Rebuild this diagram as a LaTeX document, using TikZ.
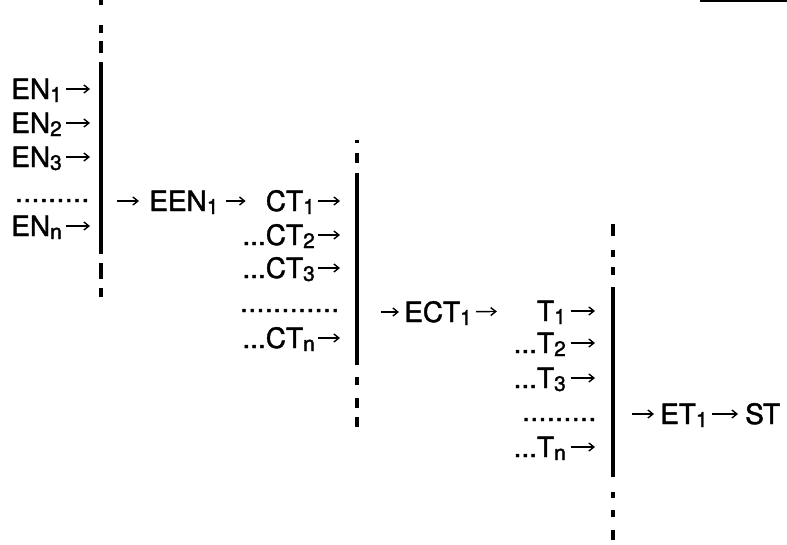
\documentclass[tikz,border=0pt]{standalone}
\usepackage{fontspec}
\setmainfont{TeX Gyre Heros}[FakeBold=1.5]
\usetikzlibrary{positioning,arrows.meta}

% lowered index after a name, e.g. EN_1
\newcommand{\sbs}[1]{\raisebox{-3pt}{\fontsize{21}{21}\selectfont #1}}
% row of spaced dots, #1 wide
\newcommand{\ldts}[1]{\hbox to #1{\leaders\hbox to 8.3pt{\hss.\hss}\hfill}}

\tikzstyle{lbl}=[inner sep=0pt, text height=20pt, text depth=0pt, font=\fontsize{28}{32}\selectfont]
\tikzstyle{dotrow}=[inner sep=0pt, anchor=base east, font=\fontsize{28}{32}\selectfont]
\tikzstyle{arr}=[-{Straight Barb[length=5pt,width=8pt]}, line width=1.4pt]
\tikzstyle{bar}=[line width=3.2pt]

\begin{document}
\begin{tikzpicture}[x=1pt,y=-1pt]
\useasboundingbox (0,0) rectangle (787,544);

% first stage: EN inputs
\coordinate (bar1) at (101,0);
\foreach \a/\b in {0/5,25/33,41/53,263/279,288/297}
  \draw[bar] (bar1) ++(0,\a) -- ++(0,\b-\a);
\draw[bar] (bar1) ++(0,62) -- ++(0,192);
\node[lbl, anchor=east] (en1) at (62,89) {EN\sbs{1}};
\node[lbl, anchor=east] (en2) at (62,123) {EN\sbs{2}};
\node[lbl, anchor=east] (en3) at (62,157) {EN\sbs{3}};
\node[dotrow] (endots) at (90,202) {\ldts{75pt}};
\node[lbl, anchor=east] (enn) at (62,226) {EN\sbs{n}};
\foreach \r in {en1,en2,en3,enn}
  \draw[arr, shorten <=4pt, shorten >=11pt] (\r) -- (\r -| bar1);

% second stage: CT inputs
\node[lbl, anchor=west] (een1) at (149,201) {EEN\sbs{1}};
\draw[arr, shorten <=16pt, shorten >=10pt] (een1 -| bar1) -- (een1);
\coordinate (bar2) at (357,0);
\foreach \a/\b in {140/143,153/163,377/385,398/408,417/427}
  \draw[bar] (bar2) ++(0,\a) -- ++(0,\b-\a);
\draw[bar] (bar2) ++(0,173) -- ++(0,192);
\node[lbl, anchor=east] (ct1) at (315,201) {CT\sbs{1}};
\draw[arr, shorten <=7pt, shorten >=20pt] (een1) -- (ct1);
\node[lbl, anchor=east] (ct2) at (315,235) {...CT\sbs{2}};
\node[lbl, anchor=east] (ct3) at (315,268) {...CT\sbs{3}};
\node[dotrow] (ctdots) at (340,312) {\ldts{100pt}};
\node[lbl, anchor=east] (ctn) at (315,338) {...CT\sbs{n}};
\foreach \r in {ct1,ct2,ct3,ctn}
  \draw[arr, shorten <=3pt, shorten >=17pt] (\r) -- (\r -| bar2);

% third stage: T inputs
\node[lbl, anchor=west] (ect1) at (404,312) {ECT\sbs{1}};
\draw[arr, shorten <=24pt, shorten >=5pt] (ect1 -| bar2) -- (ect1);
\coordinate (bar3) at (613,0);
\foreach \a/\b in {224/236,250/257,267/275,492/498,510/517,530/540}
  \draw[bar] (bar3) ++(0,\a) -- ++(0,\b-\a);
\draw[bar] (bar3) ++(0,287) -- ++(0,190);
\node[lbl, anchor=east] (t1) at (566,311) {T\sbs{1}};
\draw[arr, shorten <=4pt, shorten >=40pt] (ect1) -- (t1);
\node[lbl, anchor=east] (t2) at (566,343) {...T\sbs{2}};
\node[lbl, anchor=east] (t3) at (566,378) {...T\sbs{3}};
\node[dotrow] (tdots) at (597,421) {\ldts{75pt}};
\node[lbl, anchor=east] (tn) at (566,447) {...T\sbs{n}};
\foreach \r in {t1,t2,t3,tn}
  \draw[arr, shorten <=5pt, shorten >=18pt] (\r) -- (\r -| bar3);

% output
\node[lbl, anchor=west] (et1) at (660,414) {ET\sbs{1}};
\draw[arr, shorten <=19pt, shorten >=6pt] (et1 -| bar3) -- (et1);
\node[lbl, anchor=west] (st) at (745,414) {ST};
\draw[arr, shorten <=4pt, shorten >=7pt] (et1) -- (st);

% rule at top right
\draw[line width=1.5pt] (700,1) -- (787,1);
\end{tikzpicture}
\end{document}
